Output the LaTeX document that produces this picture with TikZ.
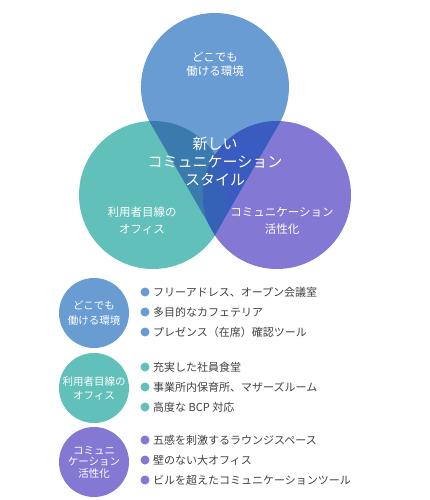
\documentclass[tikz,border=0pt]{standalone}
\usepackage{fontspec}
\setmainfont{Noto Sans CJK JP}
\usetikzlibrary{positioning}

\definecolor{topblue}{HTML}{6A9CD4}
\definecolor{leftteal}{HTML}{62C0BA}
\definecolor{rightpurple}{HTML}{8379D4}
\definecolor{lrmix}{HTML}{7E9CC8}
\definecolor{tlmix}{HTML}{3A7AAD}
\definecolor{trmix}{HTML}{3A5CC0}
\definecolor{centermix}{HTML}{3562B6}
\definecolor{bodytext}{HTML}{404040}

\tikzset{
    venn label/.style={text=white, align=center, inner sep=0pt},
    item text/.style={text=bodytext, anchor=west, inner sep=0pt, font=\fontsize{11}{13}\selectfont},
    item dot/.style={circle, inner sep=0pt, minimum size=9pt},
    legend circle/.style={circle, minimum size=70pt, venn label},
}

% top drop: circle at (215,87), tip at (215,235)
\newcommand{\droppath}{(215, 235) -- (150.9, 124) arc[start angle=150, end angle=390, radius=74] -- cycle}

\begin{document}
\begin{tikzpicture}[x=1pt, y=-1pt]
    \useasboundingbox (0, 0) rectangle (430, 500);

    % Venn shapes
    \fill[leftteal] (153, 195) circle (74);
    \fill[rightpurple] (277, 195) circle (74);
    \begin{scope}
        \clip (153, 195) circle (74);
        \fill[lrmix] (277, 195) circle (74);
    \end{scope}
    \fill[topblue] \droppath;
    \begin{scope}
        \clip \droppath;
        \fill[tlmix] (153, 195) circle (74);
        \fill[trmix] (277, 195) circle (74);
        \clip (153, 195) circle (74);
        \fill[centermix] (277, 195) circle (74);
    \end{scope}

    \node[venn label, font=\fontsize{11.5}{14}\selectfont] (vTop) at (215, 64) {どこでも\\働ける環境};
    \node[venn label, font=\fontsize{15}{18}\selectfont] (vCenter) at (215, 162) {新しい\\コミュニケーション\\スタイル};
    \node[venn label, font=\fontsize{11.5}{17}\selectfont] (vLeft) at (142, 221) {利用者目線の\\オフィス};
    \node[venn label, font=\fontsize{11.5}{17}\selectfont] (vRight) at (282, 221) {コミュニケーション\\活性化};

    % legend circles
    \node[legend circle, fill=topblue, font=\fontsize{10.5}{15}\selectfont] (cTop) at (94, 313) {どこでも\\働ける環境};
    \node[legend circle, fill=leftteal, font=\fontsize{10.5}{14}\selectfont] (cLeft) at (94, 388) {利用者目線の\\オフィス};
    \node[legend circle, fill=rightpurple, font=\fontsize{10.5}{11.5}\selectfont] (cRight) at (94, 462) {コミュニ\\ケーション\\活性化};

    % items
    \node[item dot, fill=topblue] (d1) at (145, 292) {};
    \node[item dot, fill=topblue] (d2) at (145, 312) {};
    \node[item dot, fill=topblue] (d3) at (145, 332) {};
    \node[item text] (t1) at (153, 292) {フリーアドレス、オープン会議室};
    \node[item text] (t2) at (153, 312) {多目的なカフェテリア};
    \node[item text] (t3) at (153, 332) {プレゼンス（在席）確認ツール};

    \node[item dot, fill=leftteal] (d4) at (145, 367) {};
    \node[item dot, fill=leftteal] (d5) at (145, 387) {};
    \node[item dot, fill=leftteal] (d6) at (145, 407) {};
    \node[item text] (t4) at (153, 367) {充実した社員食堂};
    \node[item text] (t5) at (153, 387) {事業所内保育所、マザーズルーム};
    \node[item text] (t6) at (153, 407) {高度な BCP 対応};

    \node[item dot, fill=rightpurple] (d7) at (145, 440) {};
    \node[item dot, fill=rightpurple] (d8) at (145, 460) {};
    \node[item dot, fill=rightpurple] (d9) at (145, 480) {};
    \node[item text] (t7) at (153, 440) {五感を刺激するラウンジスペース};
    \node[item text] (t8) at (153, 460) {壁のない大オフィス};
    \node[item text] (t9) at (153, 480) {ビルを超えたコミュニケーションツール};
\end{tikzpicture}
\end{document}
